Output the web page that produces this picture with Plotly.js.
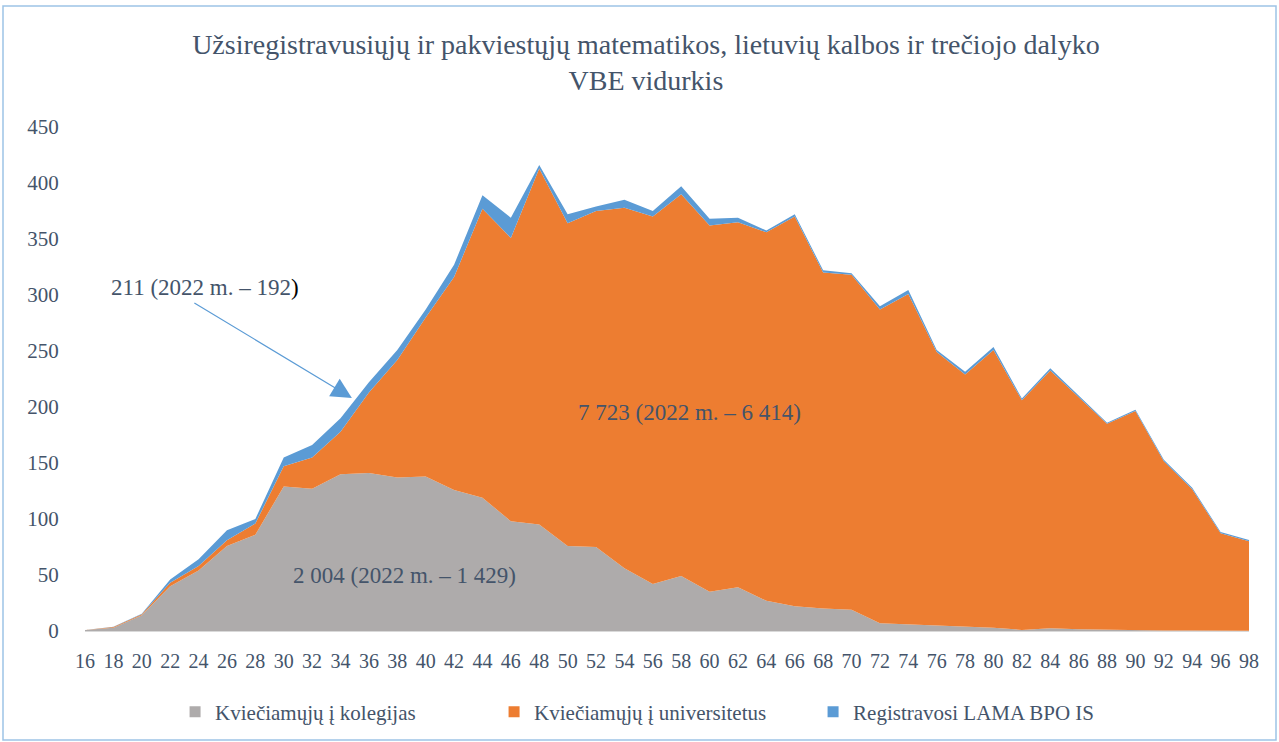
<!DOCTYPE html>
<html>
<head>
<meta charset="utf-8">
<script src="https://cdn.plot.ly/plotly-3.0.1.min.js"></script>
<style>html,body{margin:0;padding:0;background:#fff;}#chart{width:1279px;height:742px;}</style>
</head>
<body>
<div id="chart"></div>
<script>
// VBE average score categories
const scores = [16,18,20,22,24,26,28,30,32,34,36,38,40,42,44,46,48,50,52,54,56,58,60,62,64,66,68,70,72,74,76,78,80,82,84,86,88,90,92,94,96,98];
// Invited to colleges
const kolegijos = [1,3,14,40,54,76,86,129,127,140,141,137,138,126,119,98,95,76,75,56,42,49,35,39,27,22,20,19,7,6,5,4,3,1,2.5,1.5,1,0.5,0.5,0.5,0.3,0.2];
// Invited to universities
const universitetai = [0,0.5,1,3,4,5,10,18,28,38,72,105,142,190,258,253,318,288,300,322,328,341,327,326,329,348,300,299,280,295,244,225,248,205,230,207,184,196,151,126,87,80];
// Registered in LAMA BPO IS (remainder)
const registravosi = [0,0.3,0.5,3,6,9,4,8,11,12,9,9,7,11,12,18,3,8,4,7,5,7,6,4,1.5,2,2,1.5,3,3.5,2,2.5,2.5,1.5,2,1.5,1,1,1.5,1.5,1,1];

const seriesNames = ["Kviečiamųjų į kolegijas","Kviečiamųjų į universitetus","Registravosi LAMA BPO IS"];
const seriesColors = ["#AEABAB","#ED7D31","#5B9BD5"];
const titleText = "Užsiregistravusiųjų ir pakviestųjų matematikos, lietuvių kalbos ir trečiojo dalyko<br>VBE vidurkis";
const yTicks = [0,50,100,150,200,250,300,350,400,450];

const txtColor = "#44546A";
const font = "Liberation Serif, Times New Roman, serif";

const dataSeries = [kolegijos, universitetai, registravosi];
const traces = dataSeries.map((vals, i) => ({
  x: scores, y: vals, type: "scatter", mode: "lines",
  stackgroup: "one", fill: "tonexty",
  line: {width: 0, color: seriesColors[i]}, fillcolor: seriesColors[i],
  showlegend: false, hoverinfo: "x+y+name", name: seriesNames[i]
}));
seriesNames.forEach((n, i) => traces.push({
  x: [null], y: [null], type: "scatter", mode: "markers", name: n,
  marker: {symbol: "square", size: 11, color: seriesColors[i]}, showlegend: true
}));

const layout = {
  width: 1279, height: 742,
  margin: {l: 85, r: 30, t: 127, b: 111},
  paper_bgcolor: "#fff", plot_bgcolor: "#fff",
  font: {family: font, color: txtColor, size: 18},
  title: {text: titleText, x: 0.505, xref: "container", xanchor: "center",
          y: 1 - 53.5/742, yref: "container", yanchor: "middle",
          font: {family: font, size: 28, color: txtColor}},
  xaxis: {range: [16, 98], tickmode: "array", tickvals: scores, ticktext: scores.map(String),
          showgrid: false, zeroline: false, showline: true, linecolor: "#D9D9D9", linewidth: 1,
          ticks: "outside", ticklen: 12, tickcolor: "rgba(0,0,0,0)",
          tickfont: {family: font, size: 20, color: txtColor}, fixedrange: true},
  yaxis: {range: [0, 450], tickmode: "array", tickvals: yTicks, ticktext: yTicks.map(String),
          showgrid: false, zeroline: false, showline: false,
          ticks: "outside", ticklen: 21, tickcolor: "rgba(0,0,0,0)",
          tickfont: {family: font, size: 21, color: txtColor}, fixedrange: true},
  legend: {orientation: "h", x: 0.511, xref: "container", xanchor: "center",
           y: 1 - 712/742, yref: "container", yanchor: "middle", traceorder: "normal",
           entrywidth: 274, entrywidthmode: "pixels",
           font: {family: font, size: 21, color: txtColor}, itemwidth: 30, tracegroupgap: 0},
  annotations: [
    {x: 58.6, y: 195, xref: "x", yref: "y", text: "7 723 (2022 m. – 6 414)", showarrow: false,
     font: {family: font, size: 23, color: txtColor}},
    {x: 38.5, y: 50, xref: "x", yref: "y", text: "2 004 (2022 m. – 1 429)", showarrow: false,
     font: {family: font, size: 23, color: txtColor}},
    {x: 24.45, y: 307, xref: "x", yref: "y", text: "211 (2022 m. – 192<span style='color:#000'>)</span>", showarrow: false,
     font: {family: font, size: 23, color: txtColor}},
    {x: 34.8, y: 208, xref: "x", yref: "y", text: "", showarrow: true, ax: -159, ay: -96,
     arrowcolor: "#5B9BD5", arrowwidth: 1.2, arrowhead: 2, arrowsize: 3.4, standoff: 0}
  ],
  shapes: [
    {type: "rect", xref: "paper", yref: "paper",
     x0: (3-85)/1164, x1: (1276-85)/1164, y0: (631-740)/504, y1: (631-6)/504,
     line: {color: "#9DC3E6", width: 1.5}, fillcolor: "rgba(0,0,0,0)", layer: "below"}
  ],
  showlegend: true
};

Plotly.newPlot("chart", traces, layout, {displayModeBar: false, staticPlot: true});
</script>
</body>
</html>
